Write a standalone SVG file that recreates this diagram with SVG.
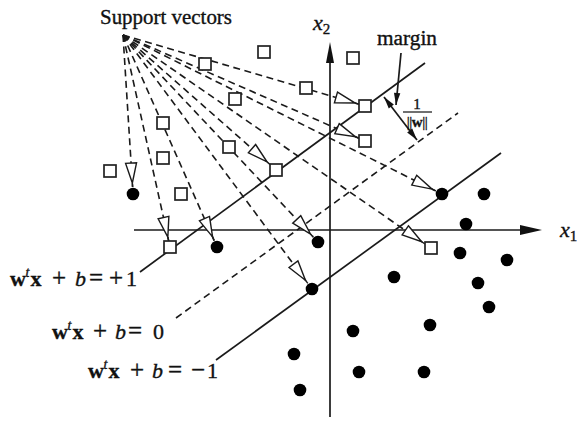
<svg xmlns="http://www.w3.org/2000/svg" width="577" height="421" viewBox="0 0 577 421">
<style>
  .sq { fill: #fff; stroke: #222; stroke-width: 1.7; }
  .dot { fill: #000; }
  .solid { stroke: #1a1a1a; stroke-width: 1.7; fill: none; }
  .dash { stroke: #1a1a1a; stroke-width: 1.6; fill: none; stroke-dasharray: 7 4.5; }
  .sv { stroke: #1a1a1a; stroke-width: 1.6; fill: none; stroke-dasharray: 7 4.5; marker-end: url(#open); }
  .t { font-family: "Liberation Serif", "Times New Roman", serif; fill: #111; stroke: #111; stroke-width: 0.35; }
  .bw { font-weight: bold; }
  .it { font-style: italic; }
  .op { font-size: 25px; }
</style>
<defs>
  <marker id="open" markerUnits="userSpaceOnUse" viewBox="-2 -8 28 16" refX="24" refY="0" markerWidth="28" markerHeight="16" orient="auto" overflow="visible">
    <path d="M0,-5.5 L20,0 L0,5.5 Z" fill="#fff" stroke="#1a1a1a" stroke-width="1.4"/>
    <path d="M20,0 L24,0" stroke="#1a1a1a" stroke-width="1.4"/>
  </marker>
  <marker id="fill" markerUnits="userSpaceOnUse" viewBox="-1 -5 14 10" refX="12" refY="0" markerWidth="14" markerHeight="10" orient="auto-start-reverse" overflow="visible">
    <path d="M0,-3.2 L12,0 L0,3.2 Z" fill="#111"/>
  </marker>
</defs>

<g id="axes">
  <line class="solid" x1="134" y1="230" x2="522" y2="230"/>
  <polygon points="520,225 542,230 520,235" fill="#111"/>
  <line class="solid" x1="330" y1="417" x2="330" y2="62"/>
  <polygon points="326,63 330,42 334,63" fill="#111"/>
  <text class="t it" x="560" y="237" font-size="22">x<tspan font-size="15" font-style="normal" dy="4">1</tspan></text>
  <text class="t it" x="313" y="30" font-size="22">x<tspan font-size="15" font-style="normal" dy="4">2</tspan></text>
</g>

<g id="hyperplanes">
  <line class="solid" x1="140" y1="272" x2="425" y2="63"/>
  <line class="dash" x1="176" y1="318" x2="458" y2="113"/>
  <line class="solid" x1="216" y1="360" x2="501" y2="153"/>
</g>

<g id="connectors">
  <line class="sv" x1="123" y1="35" x2="132.6" y2="187"/>
  <line class="sv" x1="123" y1="35" x2="168.7" y2="241"/>
  <line class="sv" x1="123" y1="35" x2="214.2" y2="240.6"/>
  <line class="sv" x1="123" y1="35" x2="270" y2="164.5"/>
  <line class="sv" x1="123" y1="35" x2="313.2" y2="236.9"/>
  <line class="sv" x1="123" y1="35" x2="307.8" y2="283.4"/>
  <line class="sv" x1="123" y1="35" x2="359" y2="104.2"/>
  <line class="sv" x1="123" y1="35" x2="359" y2="138.3"/>
  <line class="sv" x1="123" y1="35" x2="435.7" y2="190.9"/>
  <line class="sv" x1="123" y1="35" x2="425" y2="244"/>
  <line class="solid" x1="401" y1="53" x2="396" y2="105" marker-end="url(#fill)"/>
  <line class="solid" x1="384" y1="97" x2="417" y2="140" marker-start="url(#fill)" marker-end="url(#fill)"/>
</g>

<g id="class-squares">
  <rect class="sq" x="199" y="58" width="12" height="12"/>
  <rect class="sq" x="258" y="46" width="12" height="12"/>
  <rect class="sq" x="347" y="52" width="12" height="12"/>
  <rect class="sq" x="300" y="82" width="12" height="12"/>
  <rect class="sq" x="229" y="93" width="12" height="12"/>
  <rect class="sq" x="157" y="117" width="12" height="12"/>
  <rect class="sq" x="157" y="152" width="12" height="12"/>
  <rect class="sq" x="223" y="141" width="12" height="12"/>
  <rect class="sq" x="104" y="165" width="12" height="12"/>
  <rect class="sq" x="175" y="188" width="12" height="12"/>
  <rect class="sq" x="164" y="241" width="12" height="12"/>
  <rect class="sq" x="270" y="164" width="12" height="12"/>
  <rect class="sq" x="359" y="100" width="12" height="12"/>
  <rect class="sq" x="359" y="135" width="12" height="12"/>
  <rect class="sq" x="425" y="242" width="12" height="12"/>
</g>

<g id="class-dots">
  <circle class="dot" cx="133" cy="194" r="6.3"/>
  <circle class="dot" cx="217" cy="247" r="6.3"/>
  <circle class="dot" cx="318" cy="242" r="6.3"/>
  <circle class="dot" cx="312" cy="289" r="6.3"/>
  <circle class="dot" cx="442" cy="194" r="6.3"/>
  <circle class="dot" cx="484" cy="194" r="6.3"/>
  <circle class="dot" cx="466" cy="224" r="6.3"/>
  <circle class="dot" cx="460" cy="253" r="6.3"/>
  <circle class="dot" cx="507" cy="260" r="6.3"/>
  <circle class="dot" cx="394" cy="277" r="6.3"/>
  <circle class="dot" cx="478" cy="283" r="6.3"/>
  <circle class="dot" cx="489" cy="307" r="6.3"/>
  <circle class="dot" cx="430" cy="325" r="6.3"/>
  <circle class="dot" cx="353" cy="331" r="6.3"/>
  <circle class="dot" cx="294" cy="354" r="6.3"/>
  <circle class="dot" cx="359" cy="372" r="6.3"/>
  <circle class="dot" cx="424" cy="372" r="6.3"/>
  <circle class="dot" cx="300" cy="390" r="6.3"/>
</g>

<g id="labels">
  <text class="t" x="100" y="24" font-size="21" textLength="132" lengthAdjust="spacingAndGlyphs">Support vectors</text>
  <text class="t" x="377" y="45" font-size="20" textLength="60" lengthAdjust="spacingAndGlyphs">margin</text>
  <text class="t" x="417" y="109" font-size="15" text-anchor="middle">1</text>
  <line x1="403" y1="112" x2="432" y2="112" stroke="#222" stroke-width="1.3"/>
  <text class="t" x="417" y="127" font-size="15" text-anchor="middle" letter-spacing="-0.5">||<tspan class="bw">w</tspan>||</text>

  <text class="t" y="286" font-size="22"><tspan class="bw" x="10">w</tspan><tspan class="it" x="25.5" dy="-9" font-size="14">t</tspan><tspan class="bw" x="30.5" dy="9">x</tspan><tspan class="op" x="52">+</tspan><tspan class="it" x="75">b</tspan><tspan class="op" x="89">=</tspan><tspan class="op" x="109">+</tspan><tspan x="126">1</tspan></text>
  <text class="t" y="339" font-size="22"><tspan class="bw" x="52">w</tspan><tspan class="it" x="67.5" dy="-9" font-size="14">t</tspan><tspan class="bw" x="72.5" dy="9">x</tspan><tspan class="op" x="93">+</tspan><tspan class="it" x="115">b</tspan><tspan class="op" x="128">=</tspan><tspan x="153">0</tspan></text>
  <text class="t" y="378" font-size="22"><tspan class="bw" x="88">w</tspan><tspan class="it" x="103.5" dy="-9" font-size="14">t</tspan><tspan class="bw" x="108.5" dy="9">x</tspan><tspan class="op" x="130">+</tspan><tspan class="it" x="152">b</tspan><tspan class="op" x="168">=</tspan><tspan class="op" x="191">−</tspan><tspan x="207">1</tspan></text>
</g>
</svg>
